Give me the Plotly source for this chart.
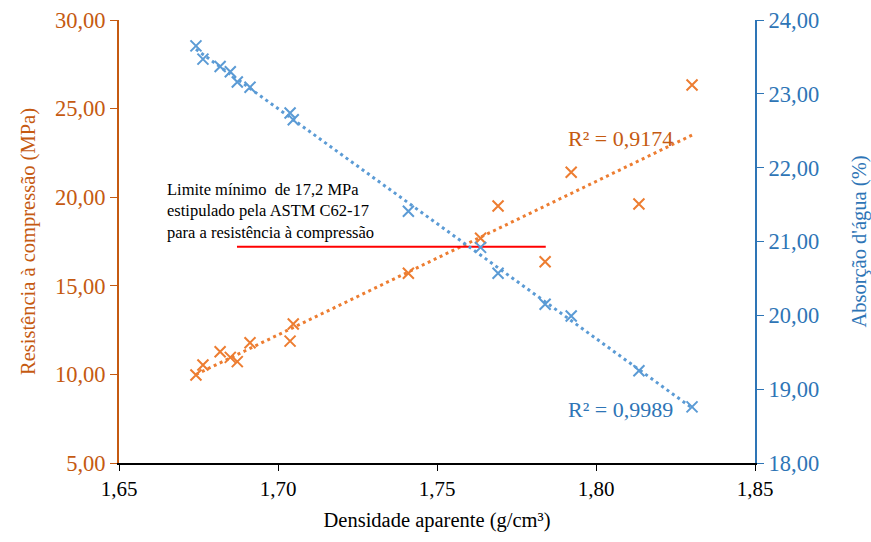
import numpy as np
import plotly.graph_objects as go

# Densidade aparente (g/cm³) of each specimen
densidade = [1.6742, 1.6764, 1.6818, 1.6850, 1.6872, 1.6912, 1.7038, 1.7048,
             1.7410, 1.7637, 1.7692, 1.7840, 1.7922, 1.8135, 1.8302]
# Resistência à compressão (MPa)
resistencia = [9.97, 10.53, 11.28, 10.96, 10.72, 11.79, 11.88, 12.84,
               15.71, 17.68, 19.50, 16.36, 21.41, 19.62, 26.33]
# Absorção d'água (%)
absorcao = [23.65, 23.47, 23.37, 23.30, 23.16, 23.09, 22.74, 22.65,
            21.41, 20.92, 20.57, 20.15, 19.99, 19.25, 18.76]

limite_astm = 17.2
limite_x = [1.6871, 1.7842]
r2_labels = ["R² = 0,9174", "R² = 0,9989"]

x_ticks = [1.65, 1.70, 1.75, 1.80, 1.85]

ORANGE = "#ED7D31"
ORANGE_DARK = "#C55A11"
BLUE = "#5B9BD5"
BLUE_DARK = "#2E75B6"
FONT = "Liberation Serif, DejaVu Serif, serif"

x = np.array(densidade)
xs = np.array([x.min(), x.max()])
fit_r = np.polyfit(x, np.array(resistencia), 1)
fit_a = np.polyfit(x, np.array(absorcao), 1)

fig = go.Figure()

# linear trendlines
fig.add_trace(go.Scatter(
    x=xs, y=np.polyval(fit_r, xs), mode="lines",
    line=dict(color=ORANGE, width=3, dash="3px,3.6px"),
    yaxis="y", showlegend=False, hoverinfo="skip"))
fig.add_trace(go.Scatter(
    x=xs, y=np.polyval(fit_a, xs), mode="lines",
    line=dict(color=BLUE, width=3, dash="3px,3.6px"),
    yaxis="y2", showlegend=False, hoverinfo="skip"))

# measured values
fig.add_trace(go.Scatter(
    x=densidade, y=resistencia, mode="markers", yaxis="y",
    marker=dict(symbol="x-thin", size=11, line=dict(color=ORANGE, width=2)),
    showlegend=False))
fig.add_trace(go.Scatter(
    x=densidade, y=absorcao, mode="markers", yaxis="y2",
    marker=dict(symbol="x-thin", size=11, line=dict(color=BLUE, width=2)),
    showlegend=False))

# ASTM C62-17 minimum strength
fig.add_trace(go.Scatter(
    x=limite_x, y=[limite_astm, limite_astm], mode="lines", yaxis="y",
    line=dict(color="#FF0000", width=2), showlegend=False, hoverinfo="skip"))

nota = ("Limite mínimo  de 17,2 MPa<br>"
        "estipulado pela ASTM C62-17<br>"
        "para a resistência à compressão")

annotations = [
    dict(x=1.8078, y=23.34, xref="x", yref="y", text=r2_labels[0],
         showarrow=False, font=dict(family=FONT, size=22, color=ORANGE_DARK)),
    dict(x=1.8078, y=18.73, xref="x", yref="y2", text=r2_labels[1],
         showarrow=False, font=dict(family=FONT, size=22, color=BLUE_DARK)),
    dict(x=1.6645, y=19.2, xref="x", yref="y", text=nota, showarrow=False,
         xanchor="left", yanchor="middle", align="left",
         font=dict(family=FONT, size=16.5, color="#000000")),
]

fig.update_layout(
    width=871, height=542,
    margin=dict(l=119, r=116, t=20, b=79),
    paper_bgcolor="white", plot_bgcolor="white",
    separators=",.",
    font=dict(family=FONT, size=20, color="#000000"),
    xaxis=dict(
        range=[1.65, 1.85], tickvals=x_ticks, tickformat=".2f",
        automargin=False,
        showgrid=False, zeroline=False,
        showline=True, linecolor="#000000", linewidth=1.5,
        ticks="outside", ticklen=6, tickcolor="#000000",
        tickfont=dict(family=FONT, size=21, color="#000000"),
        title=dict(text="Densidade aparente (g/cm³)", standoff=13,
                   font=dict(family=FONT, size=20.5, color="#000000"))),
    yaxis=dict(
        range=[5, 30], dtick=5, tickformat=".2f",
        automargin=False,
        showgrid=False, zeroline=False,
        showline=True, linecolor=ORANGE_DARK, linewidth=2,
        ticks="outside", ticklen=7, tickcolor=ORANGE_DARK,
        tickfont=dict(family=FONT, size=22.5, color=ORANGE_DARK),
        title=dict(text="Resistência à compressão (MPa)", standoff=14,
                   font=dict(family=FONT, size=20.5, color=ORANGE_DARK))),
    yaxis2=dict(
        range=[18, 24], dtick=1, tickformat=".2f",
        overlaying="y", side="right", anchor="x",
        automargin=False,
        showgrid=False, zeroline=False,
        showline=True, linecolor=BLUE_DARK, linewidth=2,
        ticks="outside", ticklen=7, tickcolor=BLUE_DARK,
        tickfont=dict(family=FONT, size=22.5, color=BLUE_DARK),
        title=dict(text="Absorção d'água (%)", standoff=38,
                   font=dict(family=FONT, size=20.5, color=BLUE_DARK))),
    annotations=annotations,
)

fig.write_html("out.html")
